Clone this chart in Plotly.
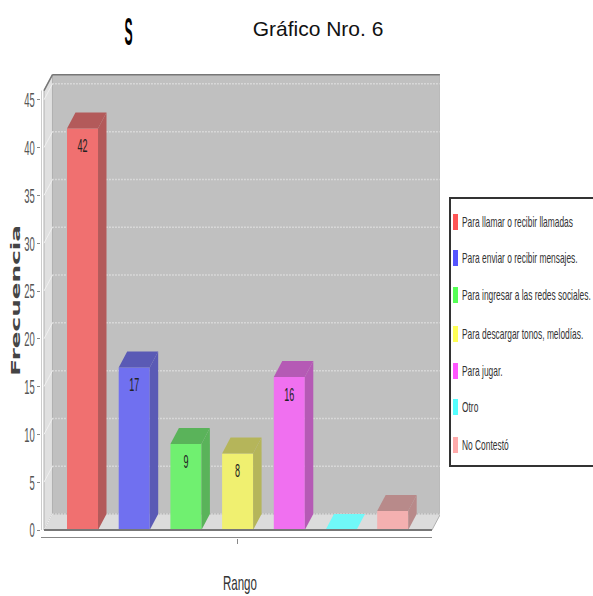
import plotly.graph_objects as go

# ---- data ----
categories = ["Para llamar o recibir llamadas", "Para enviar o recibir mensajes.",
              "Para ingresar a las redes sociales.", "Para descargar tonos, melodías.",
              "Para jugar.", "Otro", "No Contestó"]
values = [42, 17, 9, 8, 16, 0, 2]
labels = ["42", "17", "9", "8", "16", "", ""]
front_colors = ["#f07070", "#7070f0", "#70f070", "#f0f070", "#f070f0", "#70f8f8", "#f4b0b0"]
side_colors = ["#b35a5a", "#5a5ab5", "#5ab35a", "#b5b55a", "#b55ab5", "#70f8f8", "#b88a8a"]
legend_colors = ["#ff5555", "#5555ff", "#55ff55", "#ffff55", "#ff55ff", "#55ffff", "#ffaaaa"]
y_ticks = [0, 5, 10, 15, 20, 25, 30, 35, 40, 45]

W, H = 593, 596
DX, DY = 0.164, 1.67     # 3D depth, in axis units
BAR = 0.6
FONT = "Liberation Sans"
xmin, xmax = -0.803, 6.915
ymin, ymax = -0.837, 47.7
left, right = -0.745, 6.76   # front floor edge
top = 45.97                  # top of the front of the left wall


def px(x):
    return x / W


def py(y):
    return 1 - y / H


fig = go.Figure()
shapes = []
annotations = []

# walls and floor
shapes.append(dict(type="rect", layer="below", xref="x", yref="y",
                   x0=left + DX, x1=right + DX, y0=DY, y1=top + DY,
                   fillcolor="#c0c0c0", line=dict(width=0)))
shapes.append(dict(type="path", layer="below", xref="x", yref="y",
                   path=f"M{left},0 L{left+DX},{DY} L{left+DX},{top+DY} L{left},{top} Z",
                   fillcolor="#e0e0e0", line=dict(color="#b0b0b0", width=1)))
shapes.append(dict(type="path", layer="below", xref="x", yref="y",
                   path=f"M{left},0 L{right},0 L{right+DX},{DY} L{left+DX},{DY} Z",
                   fillcolor="#dcdcdc", line=dict(color="#b0b0b0", width=1)))
for v in y_ticks:
    shapes.append(dict(type="line", layer="below", xref="x", yref="y",
                       x0=left + DX, x1=right + DX, y0=v + DY, y1=v + DY,
                       line=dict(color="#eeeeee", width=1.5, dash="1px,2px")))
    shapes.append(dict(type="line", layer="below", xref="x", yref="y",
                       x0=left, x1=left + DX, y0=v, y1=v + DY,
                       line=dict(color="#f0f0f0", width=1)))
# frame lines
shapes.append(dict(type="line", xref="x", yref="y", x0=left + DX, x1=right + DX, y0=top + DY, y1=top + DY,
                   line=dict(color="#777777", width=2), layer="below"))
shapes.append(dict(type="line", xref="x", yref="y", x0=right + DX, x1=right + DX, y0=DY, y1=top + DY,
                   line=dict(color="#aaaaaa", width=1.5), layer="below"))
shapes.append(dict(type="line", xref="x", yref="y", x0=left, x1=left + DX, y0=top, y1=top + DY,
                   line=dict(color="#777777", width=1.5), layer="below"))
shapes.append(dict(type="line", xref="x", yref="y", x0=xmin, x1=xmin, y0=0, y1=top,
                   line=dict(color="#999999", width=1)))
shapes.append(dict(type="line", xref="x", yref="y", x0=left, x1=right, y0=0, y1=0,
                   line=dict(color="#777777", width=2)))
shapes.append(dict(type="line", xref="x", yref="y", x0=xmin, x1=right, y0=ymin, y1=ymin,
                   line=dict(color="#888888", width=2)))

# bars: front face through the bar trace, side and top through filled polygons
for i, (c, v) in enumerate(zip(categories, values)):
    x0, x1 = i - BAR / 2, i + BAR / 2
    if v > 0:
        fig.add_trace(go.Bar(x=[i], y=[v], width=BAR, name=c, marker=dict(color=front_colors[i], line=dict(width=0)),
                             showlegend=False))
        fig.add_trace(go.Scatter(x=[x1, x1 + DX, x1 + DX, x1, x1], y=[0, DY, v + DY, v, 0], mode="lines",
                                 fill="toself", fillcolor=side_colors[i], line=dict(width=0),
                                 showlegend=False, hoverinfo="skip"))
    fig.add_trace(go.Scatter(x=[x0, x1, x1 + DX, x0 + DX, x0], y=[v, v, v + DY, v + DY, v], mode="lines",
                             fill="toself", fillcolor=side_colors[i], line=dict(width=0),
                             showlegend=False, hoverinfo="skip"))

fig.add_trace(go.Scatter(x=list(range(len(values))), y=[v - 2 for v in values], text=labels, mode="text",
                         textposition="middle center", textfont=dict(family=FONT, size=18, color="#222222"),
                         showlegend=False, hoverinfo="skip"))

# legend box, drawn in page coordinates
shapes.append(dict(type="rect", xref="paper", yref="paper", x0=px(450), x1=px(600), y0=py(466), y1=py(198),
                   fillcolor="white", line=dict(color="#333333", width=2)))
legend_y = [222, 258, 295, 334, 371, 407, 445]
for c, col, y in zip(categories, legend_colors, legend_y):
    shapes.append(dict(type="rect", xref="paper", yref="paper", x0=px(453), x1=px(458), y0=py(y + 8), y1=py(y - 8),
                       fillcolor=col, line=dict(width=0)))
    annotations.append(dict(text=c, xref="paper", yref="paper", x=px(460), y=py(y), xanchor="left", yanchor="middle",
                            showarrow=False, font=dict(family=FONT, size=14, color="#333333")))

annotations.append(dict(text="S", xref="paper", yref="paper", x=px(128), y=py(32), xanchor="center", yanchor="middle",
                        showarrow=False, font=dict(family=FONT, size=38, weight="bold", color="#000000")))
annotations.append(dict(text="Rango", xref="paper", yref="paper", x=px(240), y=py(582), xanchor="center",
                        yanchor="middle", showarrow=False, font=dict(family=FONT, size=21, color="#333333")))
annotations.append(dict(text="Frecuencia", xref="paper", yref="paper", x=px(15), y=py(301), xanchor="center",
                        yanchor="middle", showarrow=False, textangle=-90,
                        font=dict(family="DejaVu Sans", size=13, weight="bold", color="#444444")))

fig.update_layout(
    width=W, height=H, margin=dict(l=0, r=0, t=0, b=0), paper_bgcolor="white", plot_bgcolor="white",
    showlegend=False, shapes=shapes, annotations=annotations,
    title=dict(text="Gráfico Nro. 6", x=318 / W, y=py(29), xanchor="center", yanchor="middle",
               font=dict(family=FONT, size=21, color="#111111")),
    xaxis=dict(domain=[px(41), px(440)], range=[xmin, xmax], showgrid=False, zeroline=False, showline=False,
               automargin=False, tickvals=[3], ticktext=[""], ticks="outside", ticklen=5, tickcolor="#888888"),
    yaxis=dict(domain=[py(538), py(74)], range=[ymin, ymax], showgrid=False, zeroline=False, showline=False,
               automargin=False, tickvals=y_ticks, ticks="outside", ticklen=3, tickcolor="#888888",
               ticklabelstandoff=-2, tickfont=dict(family=FONT, size=21, color="#555555")),
)

# The reference's text is squeezed or stretched horizontally; SVG attributes keep it real text.
post = """
document.body.style.margin = '0';
var modes = {S: 0.32, Rango: 0.55, Frecuencia: 1.9};
function fit(t, s) {
  if (!t.textContent) return;
  t.setAttribute('textLength', t.getComputedTextLength() * s);
  t.setAttribute('lengthAdjust', 'spacingAndGlyphs');
}
document.querySelectorAll('.ytick text').forEach(function (t) { fit(t, 0.45); });
document.querySelectorAll('.textpoint text').forEach(function (t) { fit(t, 0.5); });
document.querySelectorAll('.annotation-text').forEach(function (t) {
  var s = modes[t.textContent];
  if (s) { fit(t, s); return; }
  var w = t.getComputedTextLength();
  var x0 = parseFloat(t.getAttribute('x')) - w / 2;
  t.setAttribute('x', x0);
  t.setAttribute('text-anchor', 'start');
  t.style.textAnchor = 'start';
  t.setAttribute('transform', 'translate(' + x0 + ' 0) scale(0.6 1) translate(' + (-x0) + ' 0)');
});
"""
fig.write_html("out.html", post_script=post, config={"displayModeBar": False})
